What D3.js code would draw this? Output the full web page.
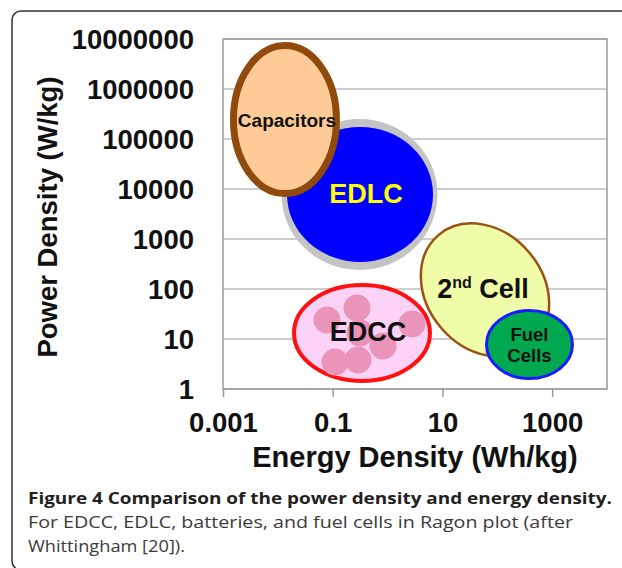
<!DOCTYPE html>
<html>
<head>
<meta charset="utf-8">
<script src="https://d3js.org/d3.v7.min.js"></script>
<style>
body { margin: 0; background: #fff; }
</style>
</head>
<body>
<script>
// Ragone plot regions (energy in Wh/kg, power in W/kg)
var regionNames = ["EDLC", "Capacitors", "2nd Cell", "EDCC", "Fuel Cells"];
var energyMin = [0.0147, 0.00155, 5.24, 0.0197, 63.5];
var energyMax = [6.73, 0.117, 681, 5.93, 2350];
var powerMin = [347, 8100, 3.47, 1.45, 1.62];
var powerMax = [174000, 7400000, 2630, 120, 37.2];

// pink particles drawn inside the EDCC region
var blobEnergy = [0.0787, 0.277, 2.79, 0.826, 0.110, 0.289, 0.314];
var blobPower = [24, 41.7, 20, 7.24, 3.47, 3.8, 13.2];

// axis ticks
var xTickValues = [0.001, 0.1, 10, 1000];
var xTickLabels = ["0.001", "0.1", "10", "1000"];
var yTickValues = [1, 10, 100, 1000, 10000, 100000, 1000000, 10000000];
var yTickLabels = ["1", "10", "100", "1000", "10000", "100000", "1000000", "10000000"];

var xTitle = "Energy Density (Wh/kg)";
var yTitle = "Power Density (W/kg)";
var captionBold = "Figure 4 Comparison of the power density and energy density.";
var captionLines = ["For EDCC, EDLC, batteries, and fuel cells in Ragon plot (after",
                    "Whittingham [20])."];

window.onload = drawChart();

function drawChart(){

    var width = 622,
        height = 568;

    //plot frame
    var left = 223, right = 607, top = 39, bottom = 389;

    var chartFont = "'Liberation Sans', Arial, sans-serif";
    var captionFont = "'Open Sans', 'Noto Sans', sans-serif";

    //look of each region
    var regionStyle = {
        "EDLC":       {fill: "#0000ff", stroke: "none", sw: 0, tilt: 0, text: "#ffff00", size: 27, dx: 6, dy: 9},
        "Capacitors": {fill: "#fdca98", stroke: "#8f4a0c", sw: 7, tilt: 0, text: "#111", size: 19, dx: 2, dy: 7},
        "2nd Cell":   {fill: "#effca8", stroke: "#9a5214", sw: 2.5, tilt: -40, text: "#111", size: 27, dx: -2, dy: 8},
        "EDCC":       {fill: "#fdd2f7", stroke: "#ff1010", sw: 4, tilt: 0, text: "#111", size: 27, dx: 6, dy: 8},
        "Fuel Cells": {fill: "#00a94f", stroke: "#1a1aff", sw: 3, tilt: 0, text: "#111", size: 18.5, dx: 0, dy: 0}
    };

    var svg = d3.select("body")
        .append("svg")
        .attr("width", width)
        .attr("height", height);

    //figure border (rounded corner, runs off to the right and bottom)
    svg.append("rect")
        .attr("x", 12)
        .attr("y", 11)
        .attr("width", 700)
        .attr("height", 559)
        .attr("rx", 9)
        .attr("fill", "none")
        .attr("stroke", "#333")
        .attr("stroke-width", 1.5);

    var x = d3.scaleLog()
        .domain([0.001, 10000])
        .range([left, right]);

    var y = d3.scaleLog()
        .domain([1, 10000000])
        .range([bottom, top]);

    //horizontal gridlines
    svg.selectAll(".grid")
        .data(yTickValues)
        .enter()
        .append("line")
        .attr("class", "grid")
        .attr("x1", left)
        .attr("x2", right)
        .attr("y1", function(d){ return y(d); })
        .attr("y2", function(d){ return y(d); })
        .attr("stroke", "#bdbdbd")
        .attr("stroke-width", 1.5);

    svg.append("rect")
        .attr("x", left)
        .attr("y", top)
        .attr("width", right - left)
        .attr("height", bottom - top)
        .attr("fill", "none")
        .attr("stroke", "#9a9a9a")
        .attr("stroke-width", 1.5);

    //x axis
    var xAxis = svg.append("g")
        .attr("transform", "translate(0," + bottom + ")")
        .call(d3.axisBottom(x)
            .tickValues(xTickValues)
            .tickFormat(function(d, i){ return xTickLabels[i]; })
            .tickSize(8)
            .tickPadding(15));

    //y axis
    var yAxis = svg.append("g")
        .attr("transform", "translate(" + left + ",0)")
        .call(d3.axisLeft(y)
            .tickValues(yTickValues)
            .tickFormat(function(d, i){ return yTickLabels[i]; })
            .tickSize(0)
            .tickPadding(29));

    [xAxis, yAxis].forEach(function(ax){
        ax.select(".domain").remove();
        ax.selectAll(".tick line").attr("stroke", "#9a9a9a").attr("stroke-width", 1.5);
        ax.selectAll(".tick text")
            .attr("fill", "#111")
            .style("font-family", chartFont)
            .style("font-weight", "bold")
            .style("font-size", "27.5px");
    });
    yAxis.selectAll(".tick text").attr("dy", "0.36em");

    //axis titles
    svg.append("text")
        .attr("x", (left + right) / 2)
        .attr("y", 467)
        .attr("text-anchor", "middle")
        .style("font-family", chartFont)
        .style("font-weight", "bold")
        .style("font-size", "29px")
        .attr("fill", "#111")
        .text(xTitle);

    svg.append("text")
        .attr("transform", "translate(57,217) rotate(-90)")
        .attr("text-anchor", "middle")
        .style("font-family", chartFont)
        .style("font-weight", "bold")
        .style("font-size", "27.5px")
        .attr("fill", "#111")
        .text(yTitle);

    //region geometry from the scales
    var regions = regionNames.map(function(name, i){
        var x0 = x(energyMin[i]), x1 = x(energyMax[i]);
        var y0 = y(powerMax[i]), y1 = y(powerMin[i]);
        return {
            name: name,
            cx: (x0 + x1) / 2,
            cy: (y0 + y1) / 2,
            rx: (x1 - x0) / 2,
            ry: (y1 - y0) / 2,
            style: regionStyle[name]
        };
    });
    var byName = {};
    regions.forEach(function(r){ byName[r.name] = r; });

    function drawRegion(r){
        var g = svg.append("g")
            .attr("transform", "translate(" + r.cx + "," + r.cy + ") rotate(" + r.style.tilt + ")");
        if (r.name == "EDLC"){
            //grey rim around the blue disc
            g.append("ellipse")
                .attr("cx", -0.5)
                .attr("cy", 0)
                .attr("rx", r.rx + 5)
                .attr("ry", r.ry + 8)
                .attr("fill", "#c4c4c4");
        }
        g.append("ellipse")
            .attr("rx", r.rx)
            .attr("ry", r.ry)
            .attr("fill", r.style.fill)
            .attr("stroke", r.style.stroke)
            .attr("stroke-width", r.style.sw);
        return g;
    }

    drawRegion(byName["EDLC"]);
    drawRegion(byName["Capacitors"]);
    drawRegion(byName["2nd Cell"]);
    drawRegion(byName["EDCC"]);

    //EDCC particles
    svg.selectAll(".blob")
        .data(blobEnergy)
        .enter()
        .append("circle")
        .attr("class", "blob")
        .attr("cx", function(d){ return x(d); })
        .attr("cy", function(d, i){ return y(blobPower[i]); })
        .attr("r", 13.5)
        .attr("fill", "#eb94ba");

    drawRegion(byName["Fuel Cells"]);

    //region labels
    regions.forEach(function(r){
        var s = r.style;
        var t = svg.append("text")
            .attr("x", r.cx + s.dx)
            .attr("y", r.cy + s.dy)
            .attr("text-anchor", "middle")
            .style("font-family", chartFont)
            .style("font-weight", "bold")
            .style("font-size", s.size + "px")
            .attr("fill", s.text);
        if (r.name == "2nd Cell"){
            t.append("tspan").text("2");
            t.append("tspan").attr("dy", -10).style("font-size", "16px").text("nd");
            t.append("tspan").attr("dy", 10).text("\u00a0Cell");
        } else if (r.name == "Fuel Cells"){
            t.append("tspan").attr("x", r.cx).attr("dy", -3).text("Fuel");
            t.append("tspan").attr("x", r.cx).attr("dy", 21).text("Cells");
        } else {
            t.text(r.name);
        }
    });

    //caption
    svg.append("text")
        .attr("x", 28)
        .attr("y", 504)
        .style("font-family", captionFont)
        .style("font-weight", "bold")
        .style("font-size", "16.5px")
        .attr("fill", "#231f20")
        .attr("textLength", 584)
        .attr("lengthAdjust", "spacingAndGlyphs")
        .text(captionBold);

    svg.selectAll(".caption")
        .data(captionLines)
        .enter()
        .append("text")
        .attr("class", "caption")
        .attr("x", 28)
        .attr("y", function(d, i){ return 528 + i * 24; })
        .style("font-family", captionFont)
        .style("font-size", "16.5px")
        .attr("fill", "#3a3a3a")
        .attr("textLength", function(d, i){ return i == 0 ? 545 : 157; })
        .attr("lengthAdjust", "spacingAndGlyphs")
        .text(function(d){ return d; });
};
</script>
</body>
</html>
